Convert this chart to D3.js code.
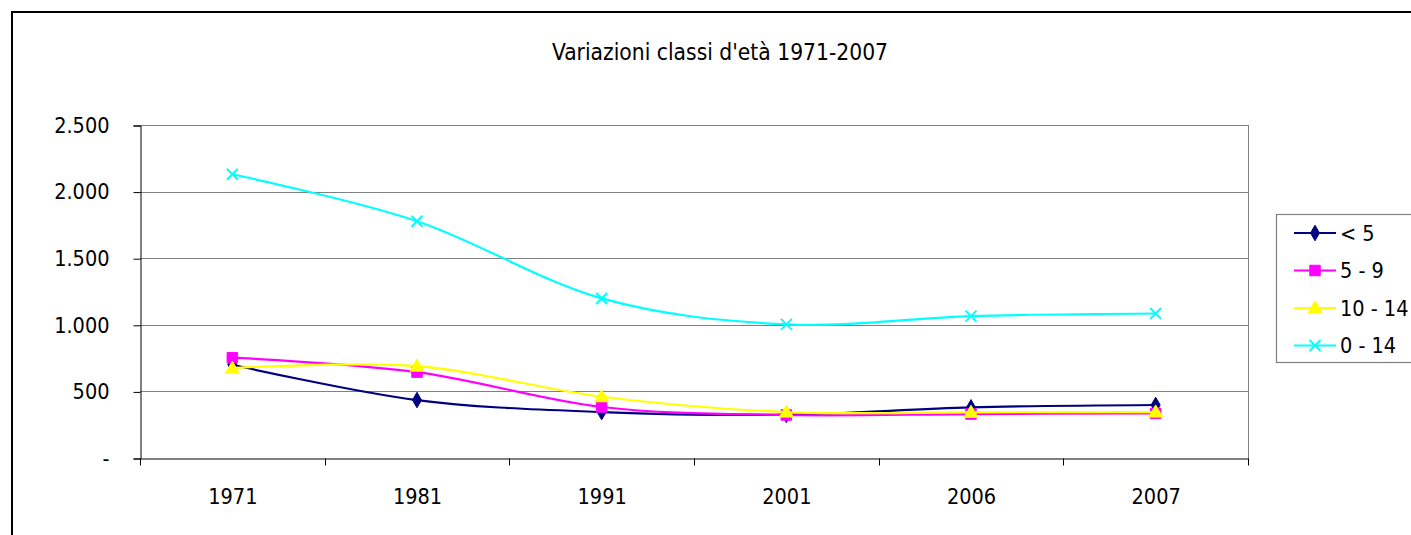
<!DOCTYPE html>
<html>
<head>
<meta charset="utf-8">
<script src="https://cdn.jsdelivr.net/npm/d3@7"></script>
<style>
  html, body { margin: 0; padding: 0; background: #fff; overflow: hidden; }
  svg { display: block; }
  .cond { font-stretch: condensed; }
</style>
</head>
<body>
<svg id="chart" width="1411" height="535"></svg>
<script>
const categories = ["1971", "1981", "1991", "2001", "2006", "2007"];
const seriesNames = ["< 5", "5 - 9", "10 - 14", "0 - 14"];
const valuesLt5 = [700, 435, 345, 325, 380, 398];
const values5to9 = [753, 645, 383, 323, 330, 335];
const values10to14 = [675, 690, 460, 345, 343, 345];
const values0to14 = [2130, 1778, 1198, 1003, 1065, 1085];
const yTicks = [0, 500, 1000, 1500, 2000, 2500];
const titleText = "Variazioni classi d'età 1971-2007";

const seriesValues = [valuesLt5, values5to9, values10to14, values0to14];
const seriesColors = ["#000080", "#FF00FF", "#FFFF00", "#00FFFF"];
const seriesSymbols = ["diamond", "square", "triangle", "cross"];

const svg = d3.select("#chart");
const axisFont = "'DejaVu Sans Condensed', 'DejaVu Sans', Verdana, sans-serif";
const axisSize = 21.5;

// outer chart border
svg.append("rect").attr("x", 12).attr("y", 12).attr("width", 1420).attr("height", 560)
  .attr("fill", "#fff").attr("stroke", "#000").attr("stroke-width", 2);

const plot = { left: 140, right: 1248, top: 125, bottom: 458 };

const x = d3.scaleBand().domain(categories).range([plot.left, plot.right]).padding(0);
const y = d3.scaleLinear().domain([0, 2500]).range([plot.bottom, plot.top]);

const loc = d3.formatLocale({ decimal: ",", thousands: ".", grouping: [3], currency: ["€", ""] });
const fmt = v => v === 0 ? "-" : loc.format(",")(v);

// gridlines
svg.append("g").selectAll("line").data(yTicks.filter(d => d > 0)).join("line")
  .attr("x1", plot.left).attr("x2", plot.right)
  .attr("y1", d => Math.round(y(d)) + 0.5).attr("y2", d => Math.round(y(d)) + 0.5)
  .attr("stroke", "#808080").attr("stroke-width", 1);

// plot right border
svg.append("line").attr("x1", plot.right + 0.5).attr("x2", plot.right + 0.5)
  .attr("y1", plot.top).attr("y2", plot.bottom).attr("stroke", "#808080");

// y axis
const yAxis = d3.axisLeft(y).tickValues(yTicks).tickSize(7).tickPadding(24).tickFormat(fmt);
const gy = svg.append("g").attr("transform", `translate(${plot.left + 0.5},0.5)`).call(yAxis);
gy.select(".domain").attr("stroke", "#000");
gy.selectAll(".tick line").attr("stroke", "#000");
gy.selectAll("text").attr("class", "cond").attr("font-family", axisFont).attr("font-size", axisSize).attr("fill", "#000");

// x axis
const xAxis = d3.axisBottom(x).tickSize(0).tickPadding(30);
const gx = svg.append("g").attr("transform", `translate(0.5,${plot.bottom + 0.5})`).call(xAxis);
gx.select(".domain").attr("stroke", "#000");
gx.selectAll("text").attr("class", "cond").attr("font-family", axisFont).attr("font-size", axisSize).attr("fill", "#000");
// category boundary ticks
const bounds = categories.map(c => x(c)).concat([x.range()[1]]);
gx.append("g").selectAll("line").data(bounds).join("line")
  .attr("x1", d => Math.round(d)).attr("x2", d => Math.round(d))
  .attr("y1", 0).attr("y2", 7).attr("stroke", "#000");

// series
const cx = c => x(c) + x.bandwidth() / 2;
const line = d3.line().x((d, i) => cx(categories[i])).y(d => y(d)).curve(d3.curveCardinal.tension(0));

function drawMarker(g, sym, color, px, py) {
  if (sym === "diamond") {
    g.append("path").attr("d", d3.symbol(d3.symbolDiamond, 70)()).attr("transform", `translate(${px},${py})`)
      .attr("fill", color).attr("stroke", color);
  } else if (sym === "square") {
    g.append("path").attr("d", d3.symbol(d3.symbolSquare, 110)()).attr("transform", `translate(${px},${py})`)
      .attr("fill", color).attr("stroke", color);
  } else if (sym === "triangle") {
    g.append("path").attr("d", d3.symbol(d3.symbolTriangle, 85)()).attr("transform", `translate(${px},${py + 1})`)
      .attr("fill", color).attr("stroke", color);
  } else {
    const r = 5.5;
    g.append("path").attr("d", `M${px - r},${py - r}L${px + r},${py + r}M${px - r},${py + r}L${px + r},${py - r}`)
      .attr("stroke", color).attr("stroke-width", 2).attr("fill", "none");
  }
}

seriesValues.forEach((vals, si) => {
  const g = svg.append("g");
  g.append("path").datum(vals).attr("d", line).attr("fill", "none")
    .attr("stroke", seriesColors[si]).attr("stroke-width", 2.2);
  vals.forEach((v, i) => drawMarker(g, seriesSymbols[si], seriesColors[si], cx(categories[i]), y(v)));
});

// title
svg.append("text").attr("x", 720).attr("y", 60).attr("text-anchor", "middle")
  .attr("font-family", "'Liberation Sans Narrow', 'DejaVu Sans Condensed', sans-serif").attr("font-size", 22.6)
  .style("font-stretch", "condensed")
  .attr("fill", "#000").text(titleText);

// legend
const legend = svg.append("g");
legend.append("rect").attr("x", 1276.5).attr("y", 214.5).attr("width", 200).attr("height", 148)
  .attr("fill", "#fff").attr("stroke", "#808080").attr("stroke-width", 1.2);
seriesNames.forEach((name, si) => {
  const ly = 233 + si * 37.5;
  legend.append("line").attr("x1", 1294).attr("x2", 1336).attr("y1", ly).attr("y2", ly)
    .attr("stroke", seriesColors[si]).attr("stroke-width", 2.2);
  drawMarker(legend, seriesSymbols[si], seriesColors[si], 1315, ly);
  legend.append("text").attr("class", "cond").attr("x", 1340).attr("y", ly).attr("dy", "0.36em")
    .attr("font-family", axisFont).attr("font-size", axisSize).attr("fill", "#000").text(name);
});
</script>
</body>
</html>
